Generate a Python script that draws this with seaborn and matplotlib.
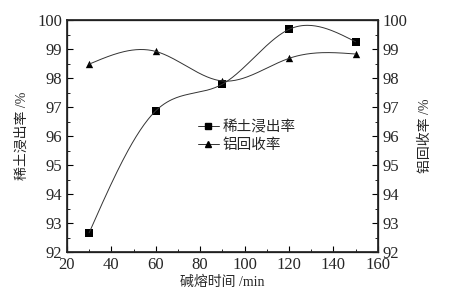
import numpy as np
import pandas as pd
import matplotlib
matplotlib.use('Agg')
import matplotlib.pyplot as plt
import seaborn as sns
from matplotlib.ticker import MultipleLocator

time_min = [30, 60, 90, 120, 150]
re_leach = [92.66, 96.87, 97.79, 99.68, 99.25]
al_recov = [98.48, 98.92, 97.90, 98.68, 98.83]

sns.set_theme(style='ticks')
plt.rcParams['font.family'] = ['Liberation Serif', 'Noto Sans CJK SC']
plt.rcParams['axes.unicode_minus'] = False
fam = ['Liberation Serif', 'Noto Sans CJK SC']


def natural_spline(x, y, n=200):
    # natural cubic spline through the points, only used to draw the smooth curve
    x = np.asarray(x, float)
    y = np.asarray(y, float)
    k = len(x)
    h = np.diff(x)
    A = np.zeros((k, k))
    b = np.zeros(k)
    A[0, 0] = A[-1, -1] = 1
    for i in range(1, k - 1):
        A[i, i - 1] = h[i - 1]
        A[i, i] = 2 * (h[i - 1] + h[i])
        A[i, i + 1] = h[i]
        b[i] = 6 * ((y[i + 1] - y[i]) / h[i] - (y[i] - y[i - 1]) / h[i - 1])
    M = np.linalg.solve(A, b)
    xs = np.linspace(x[0], x[-1], n)
    j = np.clip(np.searchsorted(x, xs) - 1, 0, k - 2)
    t0 = x[j + 1] - xs
    t1 = xs - x[j]
    hj = h[j]
    ys = (M[j] * t0 ** 3 + M[j + 1] * t1 ** 3) / (6 * hj) \
        + (y[j] / hj - M[j] * hj / 6) * t0 + (y[j + 1] / hj - M[j + 1] * hj / 6) * t1
    return xs, ys


df = pd.DataFrame({'t': time_min, 're': re_leach, 'al': al_recov})

fig = plt.figure(figsize=(4.52, 3.0), dpi=100)
ax = fig.add_axes([0.148, 0.16, 0.688, 0.773])

for col, mk, lab in [('re', 's', '稀土浸出率'), ('al', '^', '铝回收率')]:
    xs, ys = natural_spline(df['t'], df[col])
    ax.plot(xs, ys, color='#333333', lw=0.7)
    sns.scatterplot(data=df, x='t', y=col, marker=mk, color='black', s=28,
                    edgecolor='black', linewidth=0, ax=ax)
    ax.plot([], [], color='#333333', lw=0.7, marker=mk, ms=4.5, mfc='black',
            mec='black', label=lab)

ax.set_xlim(20, 160)
ax.set_ylim(92, 100)
ax.xaxis.set_major_locator(MultipleLocator(20))
ax.xaxis.set_minor_locator(MultipleLocator(10))
ax.yaxis.set_major_locator(MultipleLocator(1))
ax.yaxis.set_minor_locator(MultipleLocator(0.5))
ax.tick_params(which='both', direction='in', labelsize=12, color='black')
ax.tick_params(which='major', length=4, width=0.8)
ax.tick_params(which='minor', length=2, width=0.6)
for s in ax.spines.values():
    s.set_linewidth(0.9)
    s.set_color('black')

ax.set_xlabel('碱熔时间 /min', family=fam, fontsize=10, labelpad=2)
ax.set_ylabel('稀土浸出率 /%', family=fam, fontsize=10, labelpad=6)

ax2 = ax.twinx()
ax2.set_ylim(92, 100)
ax2.yaxis.set_major_locator(MultipleLocator(1))
ax2.yaxis.set_minor_locator(MultipleLocator(0.5))
ax2.tick_params(which='both', direction='in', labelsize=12, color='black')
ax2.tick_params(which='major', length=4, width=0.8)
ax2.tick_params(which='minor', length=2, width=0.6)
ax2.set_ylabel('铝回收率 /%', family=fam, fontsize=10, labelpad=8)

ax.legend(loc='center left', bbox_to_anchor=(0.38, 0.5), frameon=False,
          handlelength=1.4, handletextpad=0.3, labelspacing=0.3,
          prop={'family': fam, 'size': 10.5})

fig.savefig('out.png', dpi=100)
